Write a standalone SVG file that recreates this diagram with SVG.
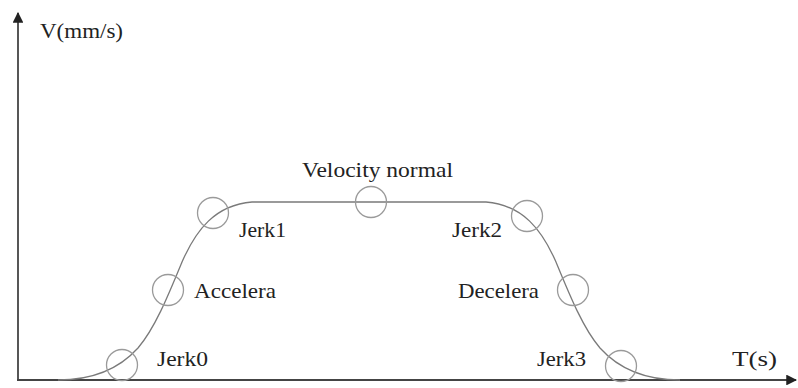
<svg xmlns="http://www.w3.org/2000/svg" width="798" height="388" viewBox="0 0 798 388">
<style>
.axis{stroke:#444;stroke-width:1.8;fill:none}
.curve{stroke:#7a7a7a;stroke-width:1.3;fill:none}
.mark{stroke:#9a9a9a;stroke-width:1.3;fill:none}
.lbl{font-family:"Liberation Serif","Times New Roman",serif;font-size:21px;fill:#222}
</style>
<defs>
<marker id="arr" viewBox="0 0 10 10" refX="9" refY="5" markerWidth="6" markerHeight="6" orient="auto" markerUnits="strokeWidth">
<path d="M0,0 L10,5 L0,10 z" fill="#222"/>
</marker>
</defs>
<rect width="798" height="388" fill="#fff"/>
<g id="connectors">
<line class="axis" x1="18" y1="381" x2="18" y2="13" marker-end="url(#arr)"/>
<line class="axis" x1="17" y1="380" x2="796" y2="380" marker-end="url(#arr)"/>
<path class="curve" d="M58,380 C95,380 120,368 138,348 C155,328 168,296 182,262 C196,230 215,205 252,202 L486,202 C523,205 542,230 556,262 C570,296 583,328 600,348 C618,368 643,380 680,380"/>
</g>
<g id="axis-labels">
<text class="lbl" x="40" y="38" textLength="83" lengthAdjust="spacingAndGlyphs">V(mm/s)</text>
<text class="lbl" x="732" y="366" textLength="45" lengthAdjust="spacingAndGlyphs">T(s)</text>
</g>
<g id="jerk0">
<circle class="mark" cx="122" cy="365" r="15.5"/>
<text class="lbl" x="157" y="366" textLength="51" lengthAdjust="spacingAndGlyphs">Jerk0</text>
</g>
<g id="accelera">
<circle class="mark" cx="168" cy="290" r="15.5"/>
<text class="lbl" x="194" y="298" textLength="82" lengthAdjust="spacingAndGlyphs">Accelera</text>
</g>
<g id="jerk1">
<circle class="mark" cx="213" cy="213" r="15.5"/>
<text class="lbl" x="239" y="237" textLength="47" lengthAdjust="spacingAndGlyphs">Jerk1</text>
</g>
<g id="velocity-normal">
<circle class="mark" cx="371" cy="202" r="15.5"/>
<text class="lbl" x="302" y="177" textLength="151" lengthAdjust="spacingAndGlyphs">Velocity normal</text>
</g>
<g id="jerk2">
<circle class="mark" cx="527" cy="216" r="15.5"/>
<text class="lbl" x="452" y="237" textLength="50" lengthAdjust="spacingAndGlyphs">Jerk2</text>
</g>
<g id="decelera">
<circle class="mark" cx="573" cy="290" r="15.5"/>
<text class="lbl" x="458" y="298" textLength="81" lengthAdjust="spacingAndGlyphs">Decelera</text>
</g>
<g id="jerk3">
<circle class="mark" cx="621" cy="366" r="15.5"/>
<text class="lbl" x="537" y="366" textLength="49" lengthAdjust="spacingAndGlyphs">Jerk3</text>
</g>
</svg>
